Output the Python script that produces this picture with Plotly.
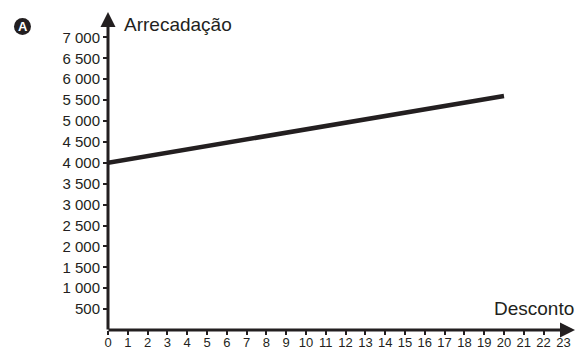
import plotly.graph_objects as go

# Data
desconto = [0, 20]
arrecadacao = [4000, 5600]
x_ticks = list(range(0, 24))
y_ticks = [500, 1000, 1500, 2000, 2500, 3000, 3500, 4000, 4500, 5000, 5500, 6000, 6500, 7000]
y_ticktext = ["500", "1 000", "1 500", "2 000", "2 500", "3 000", "3 500", "4 000",
              "4 500", "5 000", "5 500", "6 000", "6 500", "7 000"]

W, H = 576, 352
L, R, T, B = 108, 0, 0, 22
px_per_x = 19.8
px_per_y = 20.9 / 500
xmax = (W - L - R) / px_per_x
ymax = (H - T - B) / px_per_y

INK = "#231f20"
FONT = "Liberation Sans, Arial, sans-serif"

fig = go.Figure()
fig.add_trace(go.Scatter(x=desconto, y=arrecadacao, mode="lines",
                         line=dict(color=INK, width=4.5), hoverinfo="skip",
                         cliponaxis=False))

def px2paper_x(px):
    return (px - L) / (W - L - R)

def px2paper_y(py):
    return (H - B - py) / (H - T - B)

fig.update_layout(
    width=W, height=H,
    margin=dict(l=L, r=R, t=T, b=B, autoexpand=False),
    paper_bgcolor="white", plot_bgcolor="white",
    showlegend=False,
    font=dict(family=FONT, color=INK),
    xaxis=dict(range=[0, xmax], showgrid=False, zeroline=False, showline=False,
               automargin=False,
               tickmode="array", tickvals=x_ticks, ticktext=[str(v) for v in x_ticks],
               ticks="outside", ticklen=4, tickwidth=2, tickcolor=INK,
               ticklabelstandoff=-4,
               tickfont=dict(size=13, family=FONT, color=INK)),
    yaxis=dict(range=[0, ymax], showgrid=False, zeroline=False, showline=False,
               automargin=False,
               tickmode="array", tickvals=y_ticks, ticktext=y_ticktext,
               ticks="outside", ticklen=4, tickwidth=2, tickcolor=INK,
               tickfont=dict(size=15, family=FONT, color=INK)),
)

# Axes with arrows
fig.add_annotation(x=px2paper_x(576), y=0, xref="paper", yref="paper",
                   ax=-(576 - 107), ay=0, axref="pixel", ayref="pixel",
                   showarrow=True, arrowhead=2, arrowsize=1.0, arrowwidth=3,
                   arrowcolor=INK, text="")
fig.add_annotation(x=0, y=px2paper_y(12), xref="paper", yref="paper",
                   ax=0, ay=(331 - 12), axref="pixel", ayref="pixel",
                   showarrow=True, arrowhead=2, arrowsize=1.0, arrowwidth=3,
                   arrowcolor=INK, text="")

# Axis titles
fig.add_annotation(x=px2paper_x(122), y=px2paper_y(24), xref="paper", yref="paper",
                   text="Arrecadação", showarrow=False, xanchor="left", yanchor="middle",
                   font=dict(size=19, family=FONT, color=INK))
fig.add_annotation(x=px2paper_x(576), y=px2paper_y(308), xref="paper", yref="paper",
                   text="Desconto", showarrow=False, xanchor="right", yanchor="middle",
                   font=dict(size=19, family=FONT, color=INK))

# Badge "A"
cx, cy, r = 22.5, 26.5, 8.5
fig.add_shape(type="circle", xref="paper", yref="paper",
              x0=px2paper_x(cx - r), x1=px2paper_x(cx + r),
              y0=px2paper_y(cy + r), y1=px2paper_y(cy - r),
              fillcolor=INK, line=dict(color=INK, width=0))
fig.add_annotation(x=px2paper_x(cx), y=px2paper_y(cy), xref="paper", yref="paper",
                   text="<b>A</b>", showarrow=False, xanchor="center", yanchor="middle",
                   font=dict(size=13, family=FONT, color="white"))

fig.write_html("out.html", config={"displayModeBar": False},
               post_script="document.body.style.margin='0';document.body.style.padding='0';")
